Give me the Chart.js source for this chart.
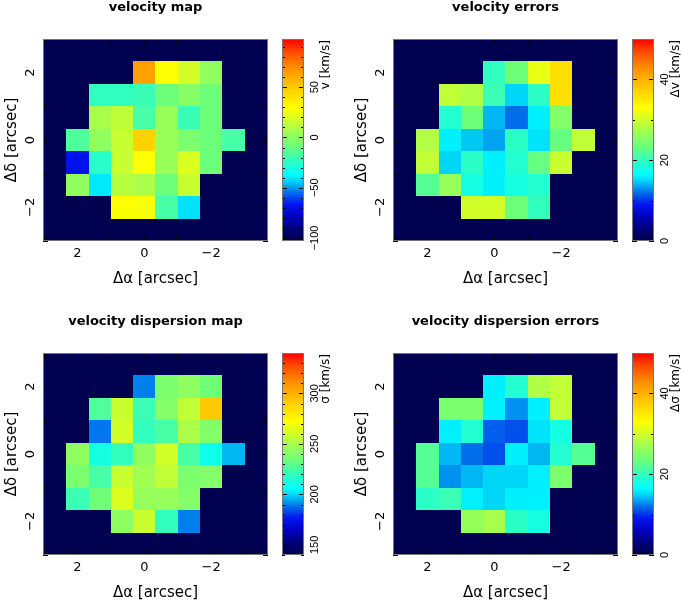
<!DOCTYPE html>
<html>
<head>
<meta charset="utf-8">
<script src="https://cdn.jsdelivr.net/npm/chart.js@4.4.1/dist/chart.umd.min.js"></script>
<style>
  html, body { margin: 0; padding: 0; background: #fff; width: 682px; height: 606px; overflow: hidden; }
  canvas { position: absolute; }
</style>
</head>
<body>
<script>
// spaxel centres on the sky (arcsec), columns run east -> west
const raCentres = [2, 1.333, 0.667, 0, -0.667, -1.333, -2, -2.667]
const decCentres = [2, 1.333, 0.667, 0, -0.667, -1.333, -2]
const spaxel = 0.667

const axisTicks = [-2, 0, 2]

// one row per dec, one entry per ra (null = no spectrum)
const velocity = [
  [null, null, null, 63, 29, 18, 2, null],
  [null, -23, -23, -21, -9, -1, -9, null],
  [null, 8, 13, -18, 4, -21, -9, null],
  [-16, 2, 15, 46, 4, -5, -9, -18],
  [-68, -25, 15, 29, 4, 20, -9, null],
  [2, -40, 11, 8, -9, 15, null, null],
  [null, null, 30, 28, -18, -41, null, null]
]
const velocityErr = [
  [null, null, null, 20, 23.5, 31.5, 36, null],
  [null, 29, 28, 20.5, 15, 19.5, 36, null],
  [null, 19, 23.5, 14, 12, 16, 25, null],
  [28, 16, 14.5, 13.5, 19.5, 15.5, 23, 29],
  [29, 15, 19.5, 16, 19, 23, 29.5, null],
  [22, 26.5, 18, 16, 18, 19, null, null],
  [null, null, 30, 30, 23.5, 20, null, null]
]
const dispersion = [
  [null, null, null, 190, 238, 244, 234, null],
  [null, 227, 258, 222, 241, 256, 292, null],
  [null, 189, 260, 220, 225, 251, 240, null],
  [244, 212, 220, 244, 260, 225, 210, 196],
  [238, 225, 258, 248, 256, 238, 240, null],
  [222, 234, 263, 246, 246, 240, null, null],
  [null, null, 244, 258, 220, 190, null, null]
]
const dispersionErr = [
  [null, null, null, 16, 19, 28, 29, null],
  [null, 24.5, 24.5, 16, 13, 16, 29, null],
  [null, 16, 19, 11.5, 11, 15.5, 18, null],
  [22, 14, 12, 11, 16, 14, 19, 22],
  [22, 13, 14, 15, 15, 16, 24.5, null],
  [19.5, 20.5, 16, 15, 16, 16, null, null],
  [null, null, 26.5, 27.5, 19.5, 18, null, null]
]

// colour bar limits and labelled ticks
const velRange = [-103, 98]
const velLabels = [-100, -50, 0, 50]
const errRange = [0, 50]
const errLabels = [0, 20, 40]
const sigRange = [140, 340]
const sigLabels = [150, 200, 250, 300]

const stops = [
  [0, 0, 0, 80], [0.05, 0, 0, 110], [0.12, 0, 0, 190], [0.18, 0, 20, 240],
  [0.24, 0, 110, 235], [0.29, 0, 200, 245], [0.33, 0, 255, 255], [0.40, 50, 255, 190],
  [0.47, 110, 255, 120], [0.53, 150, 255, 90], [0.60, 210, 255, 40], [0.66, 255, 255, 0],
  [0.78, 255, 190, 0], [0.86, 255, 140, 0], [0.94, 255, 70, 0], [1, 255, 0, 0]
]
function cmap(f) {
  f = Math.max(0, Math.min(1, f))
  for (let i = 1; i < stops.length; i++) {
    const a = stops[i - 1], b = stops[i]
    if (f <= b[0]) {
      const t = (f - a[0]) / (b[0] - a[0])
      const c = [1, 2, 3].map(k => Math.round(a[k] + t * (b[k] - a[k])))
      return 'rgb(' + c.join(',') + ')'
    }
  }
  return 'rgb(255,0,0)'
}

const fmt = v => (v < 0 ? '\u2212' + Math.abs(v) : String(v))
const FONT = 'DejaVu Sans'

function addCanvas(left, top, w, h) {
  const c = document.createElement('canvas')
  c.width = w
  c.height = h
  c.style.left = left + 'px'
  c.style.top = top + 'px'
  c.style.width = w + 'px'
  c.style.height = h + 'px'
  document.body.appendChild(c)
  return c
}

function textWidth(text, font) {
  const ctx = document.createElement('canvas').getContext('2d')
  ctx.font = font
  return ctx.measureText(text).width
}

const cellPlugin = {
  id: 'cells',
  beforeDatasetsDraw(chart, args, opts) {
    const { ctx, chartArea: a, scales: { x, y } } = chart
    const [lo, hi] = opts.range
    ctx.save()
    ctx.fillStyle = cmap(0)
    ctx.fillRect(a.left, a.top, a.width, a.height)
    chart.data.datasets[0].data.forEach(p => {
      const x0 = Math.round(x.getPixelForValue(p.x + spaxel / 2))
      const x1 = Math.round(x.getPixelForValue(p.x - spaxel / 2))
      const y0 = Math.round(y.getPixelForValue(p.y + spaxel / 2))
      const y1 = Math.round(y.getPixelForValue(p.y - spaxel / 2))
      ctx.fillStyle = cmap((p.v - lo) / (hi - lo))
      ctx.fillRect(x0, y0, x1 - x0, y1 - y0)
    })
    ctx.restore()
  },
  afterDraw(chart) {
    const { ctx, chartArea: a, scales: { x, y } } = chart
    ctx.save()
    ctx.strokeStyle = '#000'
    ctx.lineWidth = 1
    ctx.beginPath()
    for (let v = Math.ceil(x.min); v <= Math.floor(x.max); v++) {
      const px = Math.round(x.getPixelForValue(v)) + 0.5
      ctx.moveTo(px, a.top); ctx.lineTo(px, a.top + 5)
      ctx.moveTo(px, a.bottom); ctx.lineTo(px, a.bottom - 5)
    }
    for (let v = Math.ceil(y.min); v <= Math.floor(y.max); v++) {
      const py = Math.round(y.getPixelForValue(v)) + 0.5
      ctx.moveTo(a.left, py); ctx.lineTo(a.left + 5, py)
      ctx.moveTo(a.right, py); ctx.lineTo(a.right - 5, py)
    }
    ctx.stroke()
    ctx.strokeStyle = '#777'
    ctx.strokeRect(a.left + 0.5, a.top + 0.5, a.width - 1, a.height - 1)
    ctx.restore()
  }
}

const barPlugin = {
  id: 'bar',
  afterDraw(chart, args, opts) {
    const { ctx, chartArea: a, scales: { y } } = chart
    ctx.save()
    for (let py = Math.floor(a.top); py < Math.ceil(a.bottom); py++) {
      const v = y.getValueForPixel(py + 0.5)
      ctx.fillStyle = cmap((v - y.min) / (y.max - y.min))
      ctx.fillRect(a.left, py, a.width, 1)
    }
    ctx.strokeStyle = '#000'
    ctx.beginPath()
    for (let v = Math.ceil(y.min / opts.step) * opts.step; v <= y.max; v += opts.step) {
      const py = Math.round(y.getPixelForValue(v)) + 0.5
      const len = opts.labels.includes(v) ? 5 : 3
      ctx.moveTo(a.left, py); ctx.lineTo(a.left + len, py)
      ctx.moveTo(a.right, py); ctx.lineTo(a.right - len, py)
    }
    ctx.stroke()
    ctx.strokeStyle = '#777'
    ctx.strokeRect(a.left + 0.5, a.top + 0.5, a.width - 1, a.height - 1)
    ctx.translate(a.right + 22, a.top + 1)
    ctx.rotate(-Math.PI / 2)
    ctx.font = '12px ' + FONT
    ctx.fillStyle = '#000'
    ctx.textAlign = 'right'
    ctx.textBaseline = 'middle'
    ctx.fillText(opts.title, 0, 0)
    ctx.restore()
  }
}

function cellsFrom(grid) {
  const pts = []
  grid.forEach((row, j) => row.forEach((v, i) => {
    if (v !== null) pts.push({ x: raCentres[i], y: decCentres[j], v })
  }))
  return pts
}

function makePanel(p) {
  const main = addCanvas(p.left, p.top, 311, 292)
  new Chart(main, {
    type: 'scatter',
    data: { datasets: [{ data: cellsFrom(p.values), pointRadius: 0 }] },
    plugins: [cellPlugin],
    options: {
      responsive: false,
      animation: false,
      events: [],
      layout: { padding: { left: 0, right: 43, top: 0, bottom: 0 } },
      plugins: {
        legend: { display: false },
        tooltip: { enabled: false },
        cells: { range: p.range },
        title: {
          display: true, text: p.title, color: '#000', fullSize: false,
          font: { family: FONT, size: 13, weight: 'bold' },
          padding: { top: 0, bottom: 23.4 }
        }
      },
      scales: {
        x: {
          type: 'linear', reverse: true, min: -3.7, max: 3.03,
          afterFit: s => { s.height = 51 },
          grid: { display: false, drawTicks: false },
          border: { display: false },
          ticks: {
            stepSize: 1, includeBounds: false, maxRotation: 0, padding: 5, autoSkip: false,
            color: '#000', font: { family: FONT, size: 13 },
            callback: v => (axisTicks.includes(v) ? fmt(v) : '')
          },
          title: {
            display: true, text: '\u0394\u03b1 [arcsec]', color: '#000',
            font: { family: FONT, size: 15 }, padding: { top: 0, bottom: 4 }
          }
        },
        y: {
          type: 'linear', min: -3, max: 3,
          afterFit: s => { s.width = 43 },
          grid: { display: false, drawTicks: false },
          border: { display: false },
          ticks: {
            stepSize: 1, includeBounds: false, minRotation: 90, maxRotation: 90, autoSkip: false,
            crossAlign: 'center', padding: 3,
            color: '#000', font: { family: FONT, size: 13 },
            callback: v => (axisTicks.includes(v) ? fmt(v) : '')
          },
          title: {
            display: true, text: '\u0394\u03b4 [arcsec]', color: '#000',
            font: { family: FONT, size: 15 }, padding: { top: 3, bottom: 0 }
          }
        }
      }
    }
  })

  const cbW = p.left === 0 ? 71 : 62
  const bar = addCanvas(p.left + 270, p.top, cbW, 292)
  const tickFont = '11px Liberation Sans'
  const widest = Math.max(...p.labels.map(v => textWidth(fmt(v), tickFont)))
  new Chart(bar, {
    type: 'scatter',
    data: { datasets: [] },
    plugins: [barPlugin],
    options: {
      responsive: false,
      animation: false,
      events: [],
      layout: { padding: { left: 12, right: 0, top: 39, bottom: 51 } },
      plugins: {
        legend: { display: false },
        tooltip: { enabled: false },
        bar: { step: p.step, labels: p.labels, title: p.cbTitle }
      },
      scales: {
        x: { display: false, min: 0, max: 1 },
        y: {
          position: 'right', min: p.range[0], max: p.range[1],
          afterFit: s => { s.width = cbW - 34 },
          grid: { display: false, drawTicks: false },
          border: { display: false },
          ticks: {
            stepSize: p.step, includeBounds: false, minRotation: 90, maxRotation: 90, autoSkip: false,
            crossAlign: 'center', padding: 11 - widest / 2,
            color: '#000', font: { family: 'Liberation Sans', size: 11 },
            callback: v => (p.labels.includes(v) ? fmt(v) : '')
          }
        }
      }
    }
  })
}

makePanel({ title: 'velocity map', values: velocity, range: velRange, labels: velLabels, step: 10, cbTitle: 'v [km/s]', left: 0, top: 0 })
makePanel({ title: 'velocity errors', values: velocityErr, range: errRange, labels: errLabels, step: 10, cbTitle: '\u0394v [km/s]', left: 350, top: 0 })
makePanel({ title: 'velocity dispersion map', values: dispersion, range: sigRange, labels: sigLabels, step: 10, cbTitle: '\u03c3 [km/s]', left: 0, top: 314 })
makePanel({ title: 'velocity dispersion errors', values: dispersionErr, range: errRange, labels: errLabels, step: 10, cbTitle: '\u0394\u03c3 [km/s]', left: 350, top: 314 })
</script>
</body>
</html>
